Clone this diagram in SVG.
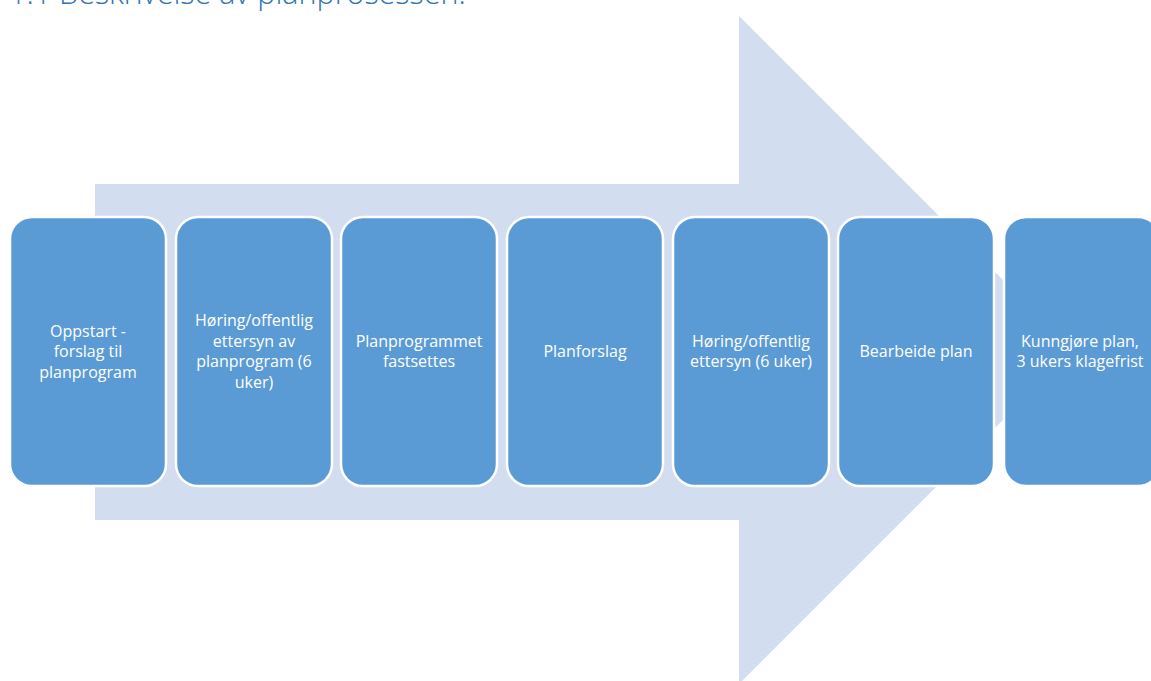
<svg xmlns="http://www.w3.org/2000/svg" width="1151" height="681" viewBox="0 0 1151 681">
<style>
.box{fill:#5B9BD5;stroke:#FFFFFF;stroke-width:2.5}
.lbl{fill:#FFFFFF;font-family:"Open Sans","Liberation Sans",sans-serif;font-size:16px;text-anchor:middle}
.title{fill:#2E74B5;font-family:"Open Sans","Liberation Sans",sans-serif;font-size:30.5px;font-weight:300}
</style>
<rect width="1151" height="681" fill="#FFFFFF"/>
<text class="title" x="9" y="4">1.1 Beskrivelse av planprosessen.</text>
<g id="arrow">
<polygon points="95,184 739,184 739,16 1073,350 739,684 739,520 95,520" fill="#D2DEEF"/>
</g>
<g id="connectors"></g>
<g id="n1"><rect class="box" x="10" y="217" width="156" height="269" rx="22"/>
<text class="lbl"><tspan x="88" y="337">Oppstart -</tspan><tspan x="88" y="357">forslag til</tspan><tspan x="88" y="378">planprogram</tspan></text></g>
<g id="n2"><rect class="box" x="176" y="217" width="156" height="269" rx="22"/>
<text class="lbl"><tspan x="254" y="326">Høring/offentlig</tspan><tspan x="254" y="347">ettersyn av</tspan><tspan x="254" y="367">planprogram (6</tspan><tspan x="254" y="388">uker)</tspan></text></g>
<g id="n3"><rect class="box" x="341" y="217" width="156" height="269" rx="22"/>
<text class="lbl"><tspan x="419" y="347">Planprogrammet</tspan><tspan x="419" y="367">fastsettes</tspan></text></g>
<g id="n4"><rect class="box" x="507" y="217" width="156" height="269" rx="22"/>
<text class="lbl"><tspan x="585" y="357">Planforslag</tspan></text></g>
<g id="n5"><rect class="box" x="673" y="217" width="156" height="269" rx="22"/>
<text class="lbl"><tspan x="751" y="347">Høring/offentlig</tspan><tspan x="751" y="367">ettersyn (6 uker)</tspan></text></g>
<g id="n6"><rect class="box" x="838" y="217" width="156" height="269" rx="22"/>
<text class="lbl"><tspan x="916" y="357">Bearbeide plan</tspan></text></g>
<g id="n7"><rect class="box" x="1004" y="217" width="156" height="269" rx="22"/>
<text class="lbl"><tspan x="1080" y="347">Kunngjøre plan,</tspan><tspan x="1080" y="367">3 ukers klagefrist</tspan></text></g>
</svg>
